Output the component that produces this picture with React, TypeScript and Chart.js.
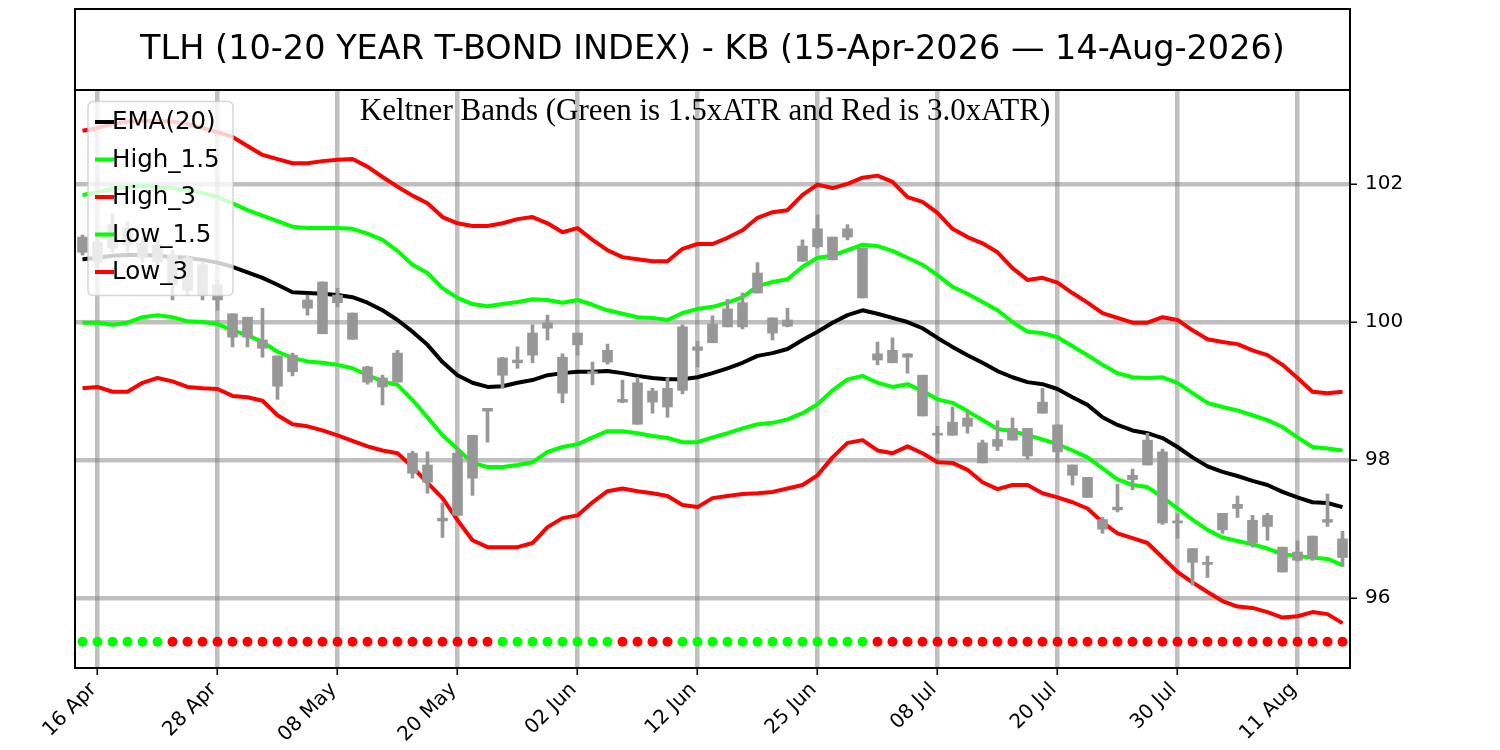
import { useEffect, useRef } from "react";
import { Chart, registerables } from "chart.js";

Chart.register(...registerables);

// trading days, 15-Apr-2026 to 14-Aug-2026
const dates = [
  "15 Apr", "16 Apr", "17 Apr", "20 Apr", "21 Apr", "22 Apr", "23 Apr", "24 Apr", "27 Apr", "28 Apr",
  "29 Apr", "30 Apr", "01 May", "04 May", "05 May", "06 May", "07 May", "08 May", "11 May", "12 May",
  "13 May", "14 May", "15 May", "18 May", "19 May", "20 May", "21 May", "22 May", "26 May", "27 May",
  "28 May", "29 May", "01 Jun", "02 Jun", "03 Jun", "04 Jun", "05 Jun", "08 Jun", "09 Jun", "10 Jun",
  "11 Jun", "12 Jun", "15 Jun", "16 Jun", "17 Jun", "18 Jun", "22 Jun", "23 Jun", "24 Jun", "25 Jun",
  "26 Jun", "29 Jun", "30 Jun", "01 Jul", "02 Jul", "06 Jul", "07 Jul", "08 Jul", "09 Jul", "10 Jul",
  "13 Jul", "14 Jul", "15 Jul", "16 Jul", "17 Jul", "20 Jul", "21 Jul", "22 Jul", "23 Jul", "24 Jul",
  "27 Jul", "28 Jul", "29 Jul", "30 Jul", "31 Jul", "03 Aug", "04 Aug", "05 Aug", "06 Aug", "07 Aug",
  "10 Aug", "11 Aug", "12 Aug", "13 Aug", "14 Aug",
];

const openPrices = [
  101.23, 100.87, 101.07, 101.36, 101.14, 100.87, 100.97, 100.46, 100.83, 100.54,
  100.12, 99.78, 99.74, 99.51, 99.28, 100.2, 99.83, 100.28, 100.13, 99.35,
  99.06, 99.13, 98.1, 97.93, 97.16, 97.2, 98.36, 98.71, 99.23, 99.41,
  99.52, 99.91, 99.49, 99.67, 99.28, 99.42, 98.88, 99.12, 98.84, 98.77,
  99.01, 99.64, 99.7, 99.93, 100.28, 100.42, 100.06, 99.94, 100.88, 101.09,
  101.23, 101.23, 101.07, 99.54, 99.41, 99.54, 99.23, 98.39, 98.36, 98.49,
  98.25, 98.2, 98.29, 98.46, 98.68, 98.51, 97.93, 97.75, 97.14, 97.28,
  97.72, 97.93, 98.12, 97.12, 96.72, 96.49, 96.99, 97.3, 97.13, 97.04,
  96.74, 96.55, 96.58, 97.14, 96.59,
];
const closePrices = [
  101.01, 101.16, 101.41, 101.12, 100.93, 101.12, 100.54, 100.93, 100.39, 100.32,
  99.78, 100.07, 99.62, 99.07, 99.52, 100.32, 100.58, 100.39, 99.75, 99.13,
  99.19, 99.55, 97.81, 97.68, 97.12, 98.1, 97.74, 98.75, 99.48, 99.45,
  99.84, 99.99, 98.97, 99.84, 99.25, 99.59, 98.84, 98.52, 99.0, 99.04,
  99.93, 99.59, 99.97, 100.19, 99.93, 100.71, 99.84, 100.03, 101.1, 101.35,
  100.9, 101.35, 100.35, 99.45, 99.59, 99.49, 98.64, 98.36, 98.55, 98.61,
  97.96, 98.3, 98.46, 98.06, 98.84, 98.12, 97.78, 97.46, 97.0, 97.32,
  97.78, 98.29, 97.09, 97.09, 96.52, 96.52, 97.23, 97.36, 96.8, 97.2,
  96.38, 96.67, 96.9, 97.1, 96.86,
];
const highPrices = [
  101.26, 101.25, 101.57, 101.45, 101.22, 101.19, 101.04, 100.97, 100.87, 100.61,
  100.12, 100.07, 100.2, 99.51, 99.55, 100.39, 100.58, 100.49, 100.13, 99.36,
  99.23, 99.59, 98.13, 98.12, 97.38, 98.17, 98.36, 98.75, 99.49, 99.64,
  99.96, 100.1, 99.54, 99.84, 99.42, 99.68, 99.16, 99.2, 99.04, 99.19,
  99.96, 99.72, 100.09, 100.33, 100.42, 100.86, 100.06, 100.2, 101.19, 101.55,
  101.23, 101.41, 101.07, 99.71, 99.77, 99.54, 99.23, 98.49, 98.77, 98.7,
  98.29, 98.57, 98.61, 98.46, 99.04, 98.51, 97.93, 97.75, 97.17, 97.65,
  97.87, 98.39, 98.16, 97.22, 96.72, 96.61, 97.23, 97.48, 97.2, 97.23,
  96.74, 96.83, 96.9, 97.51, 96.97,
];
const lowPrices = [
  100.97, 100.78, 101.01, 101.01, 100.87, 100.78, 100.32, 100.39, 100.32, 100.17,
  99.64, 99.64, 99.49, 98.88, 99.22, 100.1, 99.83, 100.22, 99.75, 99.1,
  98.8, 99.13, 97.74, 97.52, 96.88, 97.2, 97.49, 98.26, 99.04, 99.33,
  99.41, 99.74, 98.83, 99.52, 99.09, 99.39, 98.83, 98.52, 98.68, 98.62,
  98.96, 99.35, 99.7, 99.93, 99.9, 100.42, 99.74, 99.93, 100.88, 101.07,
  100.9, 101.19, 100.35, 99.38, 99.41, 99.26, 98.64, 98.1, 98.36, 98.39,
  97.96, 98.14, 98.29, 98.01, 98.68, 97.97, 97.64, 97.46, 96.94, 97.25,
  97.57, 97.93, 97.07, 96.87, 96.19, 96.3, 96.94, 97.17, 96.74, 96.84,
  96.38, 96.54, 96.55, 97.04, 96.46,
];

const ema20 = [
  100.91, 100.93, 100.96, 100.97, 100.97, 100.96, 100.94, 100.93, 100.9, 100.86,
  100.8, 100.72, 100.64, 100.54, 100.43, 100.42, 100.41, 100.39, 100.36, 100.28,
  100.17, 100.03, 99.86, 99.67, 99.42, 99.23, 99.12, 99.06, 99.07, 99.12,
  99.16, 99.23, 99.26, 99.28, 99.28, 99.29, 99.26, 99.22, 99.19, 99.17,
  99.17, 99.2, 99.26, 99.33, 99.41, 99.51, 99.55, 99.61, 99.74, 99.86,
  99.99, 100.1, 100.17, 100.12, 100.06, 100.0, 99.91, 99.77, 99.64, 99.52,
  99.41, 99.29, 99.2, 99.13, 99.1, 99.03, 98.91, 98.8, 98.62, 98.51,
  98.43, 98.39, 98.32, 98.19, 98.04, 97.91, 97.83, 97.77, 97.7, 97.64,
  97.54, 97.46, 97.39, 97.38, 97.32,
];
const high15 = [
  101.84, 101.88, 101.93, 101.96, 101.97, 101.96, 101.94, 101.91, 101.87, 101.81,
  101.72, 101.62, 101.54, 101.46, 101.38, 101.36, 101.36, 101.36, 101.35, 101.28,
  101.19, 101.03, 100.83, 100.71, 100.49, 100.35, 100.26, 100.23, 100.26, 100.29,
  100.33, 100.32, 100.28, 100.32, 100.25, 100.17, 100.12, 100.07, 100.06, 100.03,
  100.13, 100.19, 100.22, 100.28, 100.36, 100.52, 100.58, 100.62, 100.8, 100.93,
  100.96, 101.04, 101.12, 101.1, 101.03, 100.93, 100.83, 100.68, 100.51, 100.41,
  100.29, 100.17, 100.0, 99.86, 99.84, 99.78, 99.65, 99.52, 99.38, 99.26,
  99.2, 99.19, 99.2, 99.12, 98.97, 98.83, 98.77, 98.72, 98.65, 98.58,
  98.48, 98.33, 98.19, 98.17, 98.14,
];
const high3 = [
  102.77, 102.81, 102.87, 102.9, 102.91, 102.91, 102.9, 102.87, 102.81, 102.75,
  102.68, 102.55, 102.42, 102.36, 102.3, 102.3, 102.33, 102.35, 102.36, 102.25,
  102.1, 101.96, 101.83, 101.72, 101.52, 101.43, 101.39, 101.39, 101.43, 101.49,
  101.52, 101.43, 101.3, 101.36, 101.19, 101.04, 100.94, 100.91, 100.88, 100.88,
  101.06, 101.13, 101.13, 101.22, 101.33, 101.51, 101.59, 101.62, 101.84, 101.99,
  101.94, 102.0, 102.09, 102.12, 102.03, 101.81, 101.74, 101.58, 101.35, 101.23,
  101.14, 101.01, 100.78, 100.61, 100.64, 100.57, 100.42, 100.28, 100.13, 100.06,
  99.99, 99.99, 100.07, 100.03, 99.88, 99.75, 99.71, 99.68, 99.59, 99.52,
  99.38, 99.19, 98.99, 98.97, 98.99,
];
const low15 = [
  99.99, 99.99, 99.96, 99.99, 100.07, 100.1, 100.07, 100.01, 100.0, 99.97,
  99.88, 99.81, 99.71, 99.57, 99.48, 99.43, 99.41, 99.38, 99.33, 99.23,
  99.14, 99.09, 98.87, 98.62, 98.36, 98.16, 97.96, 97.9, 97.9, 97.93,
  97.97, 98.12, 98.19, 98.23, 98.33, 98.42, 98.42, 98.39, 98.35, 98.32,
  98.26, 98.26, 98.33, 98.39, 98.46, 98.52, 98.54, 98.59, 98.68, 98.81,
  99.01, 99.17, 99.22, 99.12, 99.06, 99.1, 99.0, 98.88, 98.83, 98.71,
  98.58, 98.45, 98.42, 98.36, 98.3, 98.23, 98.14, 98.04, 97.88, 97.72,
  97.64, 97.61, 97.46, 97.3, 97.14, 96.99, 96.88, 96.83, 96.78, 96.72,
  96.64, 96.61, 96.59, 96.57, 96.48,
];
const low3 = [
  99.04, 99.06, 98.99, 98.99, 99.12, 99.19, 99.14, 99.06, 99.04, 99.03,
  98.93, 98.91, 98.86, 98.65, 98.52, 98.49, 98.43, 98.36, 98.28, 98.2,
  98.14, 98.1, 97.9, 97.67, 97.45, 97.13, 96.84, 96.74, 96.74, 96.74,
  96.8, 97.03, 97.16, 97.2, 97.39, 97.55, 97.59, 97.55, 97.52, 97.48,
  97.35, 97.32, 97.45, 97.48, 97.51, 97.52, 97.54, 97.59, 97.64, 97.78,
  98.04, 98.25, 98.29, 98.14, 98.1, 98.2, 98.1, 97.97, 97.96, 97.86,
  97.68, 97.58, 97.64, 97.64, 97.52, 97.46, 97.39, 97.3, 97.1, 96.94,
  96.87, 96.8, 96.59, 96.38, 96.23, 96.09, 95.96, 95.88, 95.86, 95.8,
  95.72, 95.74, 95.8, 95.77, 95.64,
];

// 1 = green dot, -1 = red dot
const trend = [
  1, 1, 1, 1, 1, 1, -1, -1, -1, -1,
  -1, -1, -1, -1, -1, -1, -1, -1, -1, -1,
  -1, -1, -1, -1, -1, -1, -1, -1, 1, 1,
  1, 1, 1, 1, 1, 1, -1, -1, -1, -1,
  1, 1, 1, 1, 1, 1, 1, 1, 1, 1,
  1, 1, 1, -1, -1, -1, -1, -1, -1, -1,
  -1, -1, -1, -1, -1, -1, -1, -1, -1, -1,
  -1, -1, -1, -1, -1, -1, -1, -1, -1, -1,
  -1, -1, -1, -1, -1,
];
const dotLevel = 95.37;

const yTicks = [96, 98, 100, 102];

const TITLE = "TLH (10-20 YEAR T-BOND INDEX) - KB (15-Apr-2026 \u2014 14-Aug-2026)";
const SUBTITLE = "Keltner Bands (Green is 1.5xATR and Red is 3.0xATR)";

const GREEN = "#00ff00";
const RED = "#ff0000";
const CANDLE = "#979797";
const GRID = "rgba(128,128,128,0.5)";

const bandLines = [
  { label: "EMA(20)", data: ema20, color: "#000000" },
  { label: "High_1.5", data: high15, color: GREEN },
  { label: "High_3", data: high3, color: RED },
  { label: "Low_1.5", data: low15, color: GREEN },
  { label: "Low_3", data: low3, color: RED },
];

const framePlugin = {
  id: "frame",
  afterDraw(chart: any) {
    const { ctx, chartArea: a } = chart;
    ctx.save();

    // legend
    ctx.fillStyle = "rgba(255,255,255,0.8)";
    ctx.strokeStyle = "rgba(204,204,204,0.8)";
    ctx.lineWidth = 1.5;
    ctx.beginPath();
    ctx.roundRect(88, 101.5, 145, 194, 5);
    ctx.fill();
    ctx.stroke();
    ctx.font = '24.5px "DejaVu Sans"';
    ctx.textAlign = "left";
    ctx.textBaseline = "middle";
    bandLines.forEach((l, i) => {
      const y = 122 + i * 37.5;
      ctx.strokeStyle = l.color;
      ctx.lineWidth = 4;
      ctx.beginPath();
      ctx.moveTo(95, y);
      ctx.lineTo(114, y);
      ctx.stroke();
      ctx.fillStyle = "#000";
      ctx.fillText(l.label, 112, y + 1);
    });

    // axes frame + title box
    ctx.strokeStyle = "#000";
    ctx.lineWidth = 2;
    ctx.strokeRect(a.left, a.top, a.right - a.left, a.bottom - a.top);
    ctx.strokeRect(a.left, 9, a.right - a.left, a.top - 9);

    ctx.fillStyle = "#000";
    ctx.textAlign = "center";
    ctx.font = '33.5px "DejaVu Sans"';
    ctx.fillText(TITLE, (a.left + a.right) / 2, 50);

    ctx.textBaseline = "alphabetic";
    ctx.font = '31px "Liberation Serif"';
    ctx.fillText(SUBTITLE, 705, 120);
    ctx.restore();
  },
};

export default function App() {
  const chartRef = useRef<HTMLCanvasElement | null>(null);

  useEffect(() => {
    if (!chartRef.current) return;
    const tickFont = { family: "DejaVu Sans", size: 20 };

    const chart = new Chart(chartRef.current, {
      type: "bar",
      data: {
        labels: dates,
        datasets: [
          {
            type: "line",
            label: "signal",
            data: dates.map(() => dotLevel),
            showLine: false,
            pointRadius: 5,
            pointBorderWidth: 0,
            pointBackgroundColor: trend.map((t) => (t > 0 ? GREEN : RED)),
            order: 0,
          },
          {
            type: "bar",
            label: "body",
            data: dates.map((_, i) => [openPrices[i], closePrices[i]]),
            backgroundColor: CANDLE,
            barThickness: 10,
            grouped: false,
            order: 1,
          },
          {
            type: "bar",
            label: "wick",
            data: dates.map((_, i) => [lowPrices[i], highPrices[i]]),
            backgroundColor: CANDLE,
            barThickness: 3,
            grouped: false,
            order: 2,
          },
          ...bandLines.map((l, i) => ({
            type: "line" as const,
            label: l.label,
            data: l.data,
            borderColor: l.color,
            borderWidth: 4,
            borderJoinStyle: "round" as const,
            pointRadius: 0,
            tension: 0,
            order: 3 + i,
          })),
        ],
      } as any,
      options: {
        animation: false,
        responsive: false,
        events: [],
        layout: { padding: { left: 75, top: 90, right: 0, bottom: 0 } },
        plugins: {
          legend: { display: false },
          tooltip: { enabled: false },
          title: { display: false },
        },
        scales: {
          x: {
            type: "category",
            offset: true,
            border: { display: false },
            grid: {
              offset: false,
              lineWidth: 4.5,
              color: (c: any) => (c.index % 8 === 1 ? GRID : "rgba(0,0,0,0)"),
              tickColor: (c: any) => (c.index % 8 === 1 ? "#000" : "rgba(0,0,0,0)"),
              tickLength: 7,
              tickWidth: 1.5,
            },
            ticks: {
              autoSkip: false,
              minRotation: 45,
              maxRotation: 45,
              color: "#000",
              font: tickFont,
              padding: 3,
              labelOffset: -4,
              callback: (_v: any, i: number) => (i % 8 === 1 ? dates[i] : ""),
            },
            afterFit: (s: any) => {
              s.height = 82;
              s.paddingLeft = 0;
              s.paddingRight = 0;
            },
          },
          y: {
            position: "right",
            min: 94.99,
            max: 103.36,
            border: { display: false },
            afterBuildTicks: (s: any) => {
              s.ticks = yTicks.map((v) => ({ value: v }));
            },
            grid: {
              color: GRID,
              lineWidth: 4.5,
              tickColor: "#000",
              tickLength: 7,
              tickWidth: 1.5,
            },
            ticks: {
              color: "#000",
              font: tickFont,
              padding: 8,
              callback: (v: any) => String(v),
            },
            afterFit: (s: any) => {
              s.width = 150;
            },
          },
        },
      },
      plugins: [framePlugin],
    });

    return () => {
      chart.destroy();
    };
  }, []);

  return (
    <div style={{ position: "fixed", left: 0, top: 0, width: 1500, height: 750, background: "#fff" }}>
      <canvas ref={chartRef} width={1500} height={750} />
    </div>
  );
}
